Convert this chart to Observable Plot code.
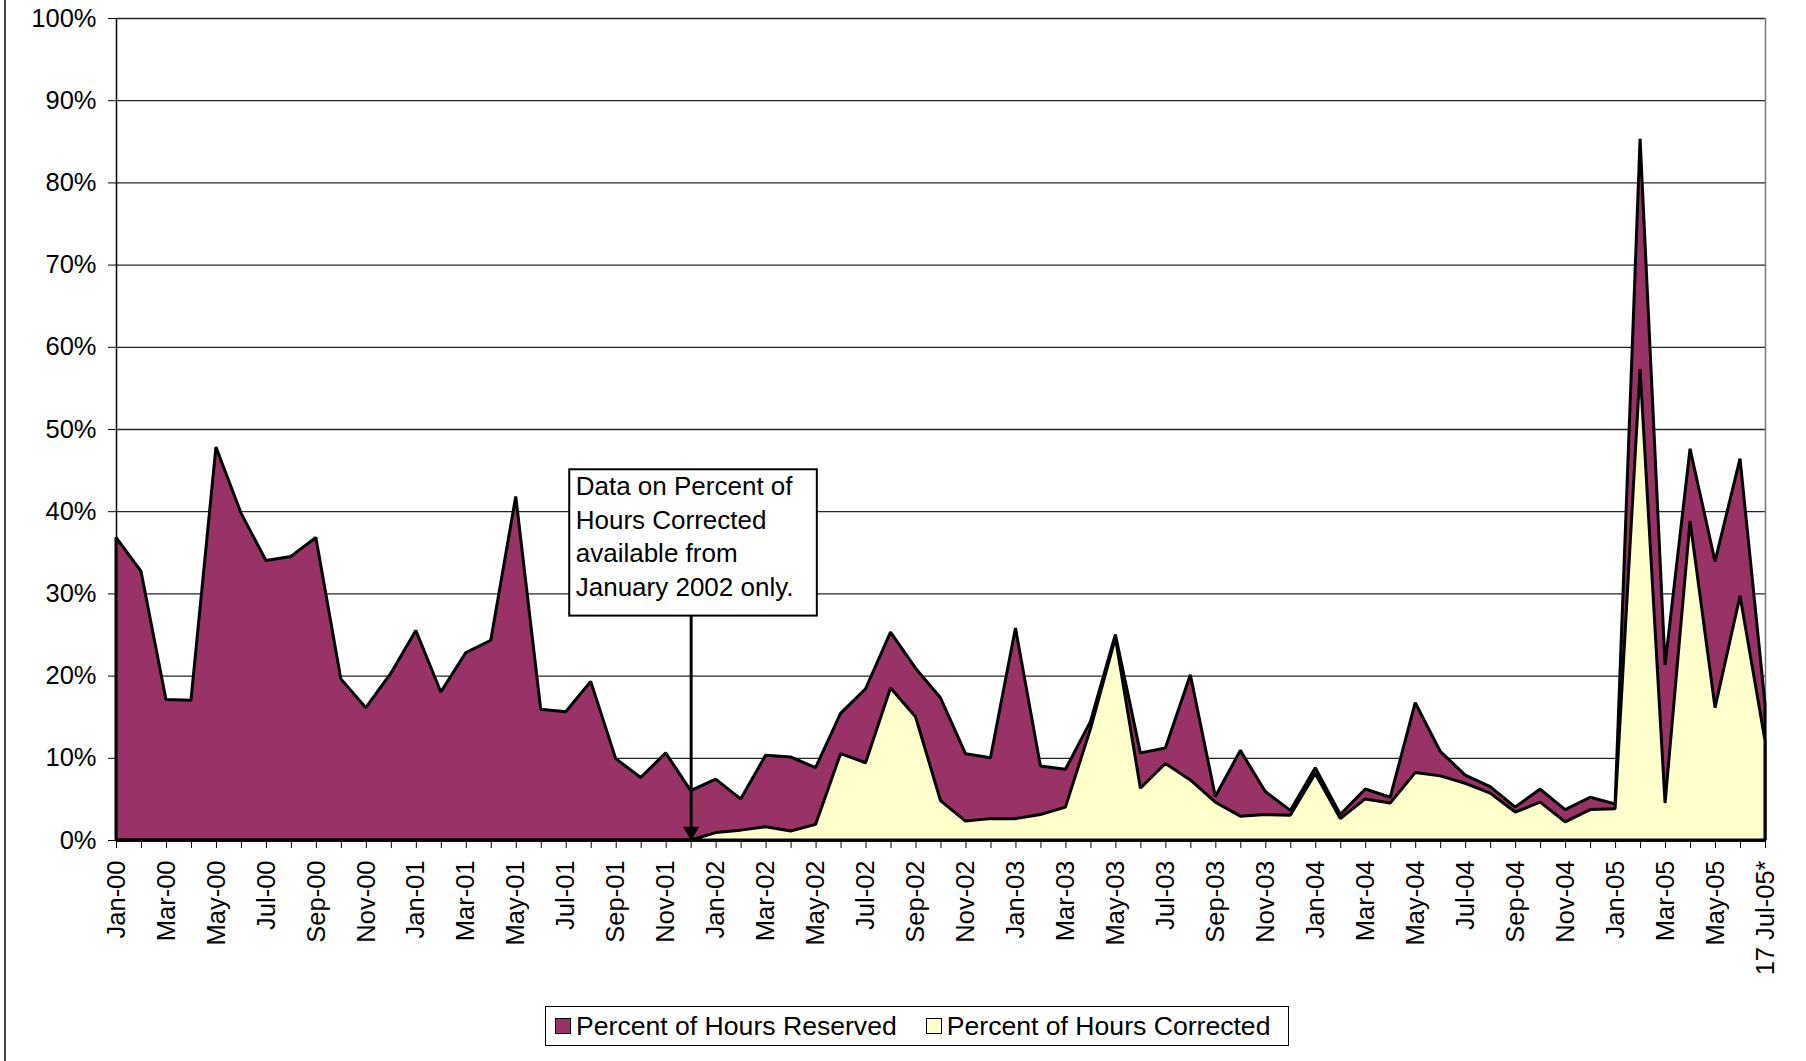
<!DOCTYPE html>
<html>
<head>
<meta charset="utf-8">
<script src="https://cdn.jsdelivr.net/npm/d3@7"></script>
<script src="https://cdn.jsdelivr.net/npm/@observablehq/plot@0.6"></script>
<style>
  html, body { margin: 0; padding: 0; background: #fff; }
  body { width: 1806px; height: 1061px; position: relative; overflow: hidden;
         font-family: "Liberation Sans", Arial, sans-serif; color: #000; }
  #frame { position: absolute; left: 4px; top: 0; width: 2px; height: 1061px; background: #444; }
  #chart svg { display: block; }
  #legend { margin-left: 545px; margin-top: 6px; width: 742px; height: 38px; border: 1px solid #000;
            display: flex; align-items: center; font-size: 26.6px; box-sizing: content-box; white-space: nowrap; }
  .item { display: flex; align-items: center; }
  .sw { width: 14px; height: 14px; border: 1.5px solid #000; margin-right: 5px; }
</style>
</head>
<body>
<div id="frame"></div>
<div id="chart"></div>
<div id="legend"></div>
<script>
// ---- data (percent) ----
const months = [
  "Jan-00","Feb-00","Mar-00","Apr-00","May-00","Jun-00","Jul-00","Aug-00","Sep-00","Oct-00","Nov-00","Dec-00",
  "Jan-01","Feb-01","Mar-01","Apr-01","May-01","Jun-01","Jul-01","Aug-01","Sep-01","Oct-01","Nov-01","Dec-01",
  "Jan-02","Feb-02","Mar-02","Apr-02","May-02","Jun-02","Jul-02","Aug-02","Sep-02","Oct-02","Nov-02","Dec-02",
  "Jan-03","Feb-03","Mar-03","Apr-03","May-03","Jun-03","Jul-03","Aug-03","Sep-03","Oct-03","Nov-03","Dec-03",
  "Jan-04","Feb-04","Mar-04","Apr-04","May-04","Jun-04","Jul-04","Aug-04","Sep-04","Oct-04","Nov-04","Dec-04",
  "Jan-05","Feb-05","Mar-05","Apr-05","May-05","Jun-05","17 Jul-05*"
];
const reserved = [
  36.8, 32.7, 17.1, 17.0, 47.8, 39.8, 34.0, 34.5, 36.8, 19.6, 16.1, 20.3,
  25.5, 18.0, 22.8, 24.3, 41.8, 15.9, 15.6, 19.3, 9.9, 7.6, 10.6, 6.0,
  7.4, 5.0, 10.3, 10.1, 8.8, 15.4, 18.4, 25.3, 20.9, 17.3, 10.5, 10.0,
  25.8, 9.0, 8.6, 14.4, 25.0, 10.6, 11.2, 20.1, 5.3, 10.9, 5.9, 3.6,
  8.8, 3.1, 6.2, 5.2, 16.7, 10.8, 7.9, 6.5, 4.0, 6.2, 3.7, 5.2,
  4.4, 85.3, 21.3, 47.6, 33.9, 46.4, 16.6
];
const corrected = [
  null, null, null, null, null, null, null, null, null, null, null, null,
  null, null, null, null, null, null, null, null, null, null, null, 0.0,
  0.9, 1.2, 1.6, 1.1, 1.9, 10.5, 9.4, 18.5, 15.0, 4.8, 2.3, 2.6,
  2.6, 3.1, 4.0, 13.5, 24.6, 6.3, 9.3, 7.3, 4.6, 2.9, 3.1, 3.0,
  8.1, 2.6, 5.0, 4.5, 8.2, 7.8, 6.9, 5.7, 3.4, 4.6, 2.2, 3.7,
  3.8, 57.3, 4.5, 38.8, 16.1, 29.7, 12.1
];
const yTicks = [0, 0.1, 0.2, 0.3, 0.4, 0.5, 0.6, 0.7, 0.8, 0.9, 1.0];
const seriesNames = ["Percent of Hours Reserved", "Percent of Hours Corrected"];
const seriesColors = ["#993366", "#FFFFCC"];
const note = {
  month: "Dec-01",
  text: "Data on Percent of\nHours Corrected\navailable from\nJanuary 2002 only.",
  top: 0.451, bottom: 0.273, left: 4.86, right: 5.05
};

// ---- build ----
const data = months.map((m, i) => ({
  i, month: m,
  reserved: reserved[i] / 100,
  corrected: corrected[i] == null ? null : corrected[i] / 100
}));
const ni = months.indexOf(note.month);
const font = '"Liberation Sans", Arial, sans-serif';

const chart = Plot.plot({
  width: 1806, height: 1000,
  marginLeft: 116, marginRight: 41, marginTop: 18, marginBottom: 160,
  style: { fontFamily: font, fontSize: "25.5px", color: "#000", background: "transparent", overflow: "visible" },
  x: {
    type: "linear", domain: [0, months.length - 1],
    ticks: months.map((_, i) => i),
    tickFormat: i => (i % 2 === 0 ? months[i] : ""),
    tickRotate: -90, tickSize: 8, tickPadding: 12, label: null
  },
  y: {
    domain: [0, 1], ticks: yTicks, tickFormat: d3.format(".0%"),
    tickSize: 8, tickPadding: 12, label: null
  },
  marks: [
    Plot.ruleY(yTicks, { stroke: "#000", strokeOpacity: 0.85, strokeWidth: 1.3 }),
    Plot.ruleX([months.length - 1], { stroke: "#777", strokeWidth: 1.5 }),
    Plot.areaY(data, { x: "i", y: "reserved", fill: seriesColors[0], stroke: "#000", strokeWidth: 3, strokeLinejoin: "miter" }),
    Plot.areaY(data, { x: "i", y: "corrected", fill: seriesColors[1], stroke: "#000", strokeWidth: 3, strokeLinejoin: "miter" }),
    Plot.ruleX([0], { stroke: "#000", strokeWidth: 1.5 }),
    Plot.ruleY([0], { stroke: "#000", strokeWidth: 2.5 }),
    // annotation
    Plot.ruleX([note], { x: () => ni, y1: () => 0.015, y2: "bottom", stroke: "#000", strokeWidth: 3 }),
    Plot.dot([note], { x: () => ni, y: () => 0, symbol: "triangle", r: 6, fill: "#000", stroke: "none", rotate: 180, dy: -9 }),
    Plot.rect([note], { x1: d => ni - d.left, x2: d => ni + d.right, y1: "bottom", y2: "top", fill: "#fff", stroke: "#000", strokeWidth: 2 }),
    Plot.text([note], { x: d => ni - d.left, y: "top", text: "text", textAnchor: "start", lineAnchor: "top",
                        dx: 6, dy: 1, fontSize: 26, lineHeight: 1.3, fill: "#000" })
  ]
});
document.getElementById("chart").appendChild(chart);

// ---- legend ----
const legend = document.getElementById("legend");
seriesNames.forEach((name, k) => {
  const item = document.createElement("div");
  item.className = "item";
  item.style.marginLeft = k === 0 ? "9px" : "29px";
  const sw = document.createElement("div");
  sw.className = "sw";
  sw.style.background = seriesColors[k];
  const label = document.createElement("span");
  label.textContent = name;
  item.appendChild(sw);
  item.appendChild(label);
  legend.appendChild(item);
});
</script>
</body>
</html>
